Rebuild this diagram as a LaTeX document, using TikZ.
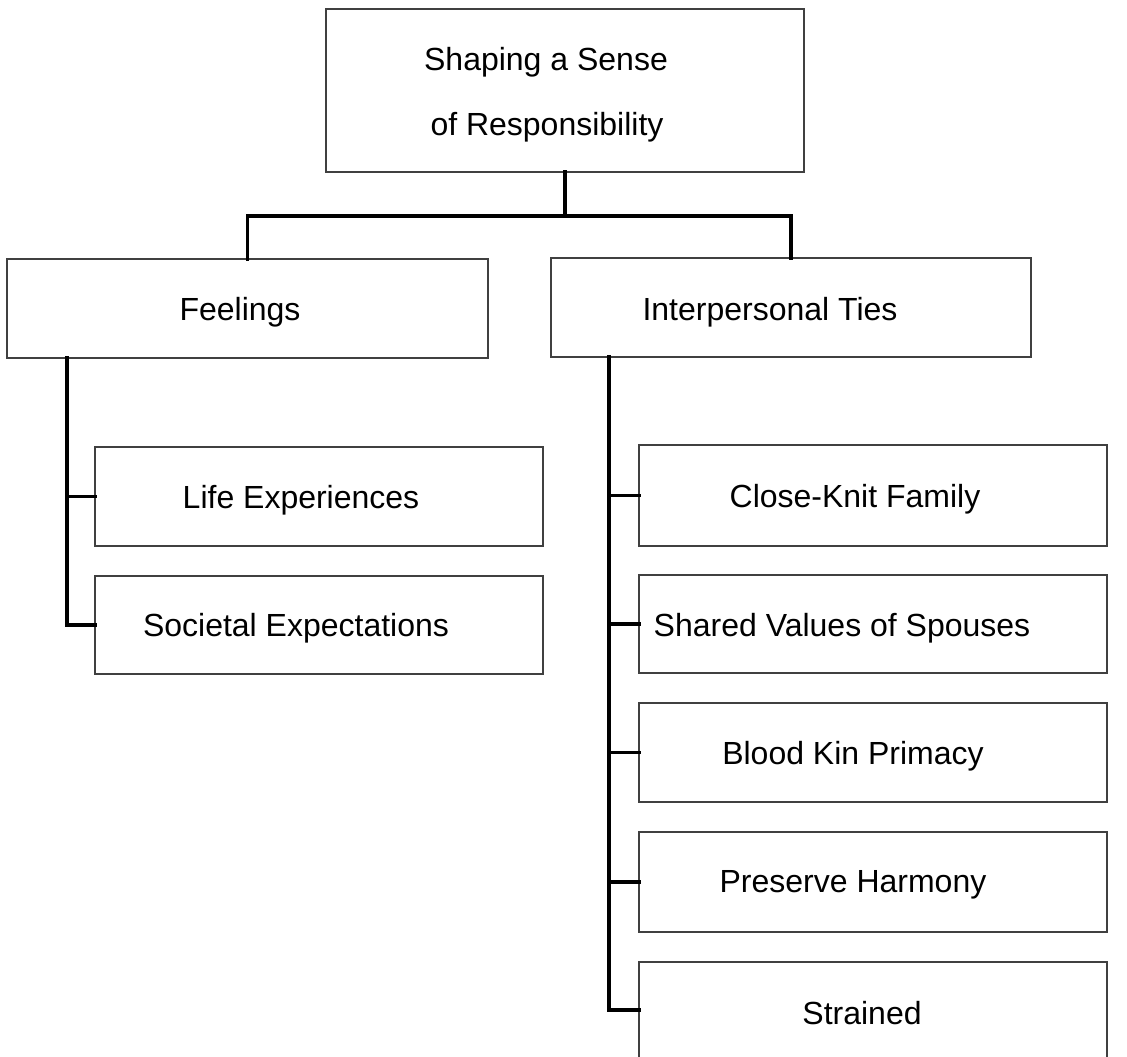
\documentclass[tikz,border=0pt]{standalone}
\usepackage{fontspec}
\setmainfont{Liberation Sans}
\begin{document}
\begin{tikzpicture}[x=1pt,y=-1pt,
  box/.style={draw=black!75,line width=1.7pt,fill=white,inner sep=0pt,outer sep=0pt},
  lbl/.style={inner sep=0pt,font=\fontsize{32}{38}\selectfont},
  link/.style={draw=black,line width=3.8pt,line cap=rect}]
\useasboundingbox[fill=white] (0,0) rectangle (1127,1057);

% boxes
\node[box,minimum width=478pt,minimum height=163pt] (top) at (565,90.5) {};
\node[box,minimum width=481pt,minimum height=99pt] (feel) at (247.5,308.5) {};
\node[box,minimum width=480pt,minimum height=99pt] (inter) at (791,307.5) {};
\node[box,minimum width=448pt,minimum height=99pt] (life) at (319,496.5) {};
\node[box,minimum width=448pt,minimum height=98pt] (soc) at (319,625) {};
\node[box,minimum width=468pt,minimum height=101pt] (close) at (873,495.5) {};
\node[box,minimum width=468pt,minimum height=98pt] (shared) at (873,624) {};
\node[box,minimum width=468pt,minimum height=99pt] (blood) at (873,752.5) {};
\node[box,minimum width=468pt,minimum height=100pt] (harm) at (873,882) {};
\node[box,minimum width=468pt,minimum height=96pt] (strain) at (873,1010) {};

% labels
\node[lbl] (ttop1) at (546,62) {Shaping a Sense};
\node[lbl] (ttop2) at (547,127) {of Responsibility};
\node[lbl] (tfeel) at (240,312) {Feelings};
\node[lbl] (tinter) at (770,312) {Interpersonal Ties};
\node[lbl] (tlife) at (301,500) {Life Experiences};
\node[lbl] (tsoc) at (296,628) {Societal Expectations};
\node[lbl] (tclose) at (855,499) {Close-Knit Family};
\node[lbl] (tshared) at (842,628) {Shared Values of Spouses};
\node[lbl] (tblood) at (853,756) {Blood Kin Primacy};
\node[lbl] (tharm) at (853,885) {Preserve Harmony};
\node[lbl] (tstrain) at (862,1013) {Strained};

% connectors
\coordinate (bar) at (0,216);
\coordinate (lsp) at (67,0);
\coordinate (rsp) at (609,0);
\draw[link] (top.south) -- (top.south |- bar) -| (feel.north);
\draw[link] (top.south |- bar) -| (inter.north);
\draw[link] (feel.south -| lsp) |- (soc.west);
\draw[link] (lsp |- life.west) -- (life.west);
\draw[link] (inter.south -| rsp) |- (strain.west);
\foreach \b in {close,shared,blood,harm}
  \draw[link] (rsp |- \b.west) -- (\b.west);
\end{tikzpicture}
\end{document}
